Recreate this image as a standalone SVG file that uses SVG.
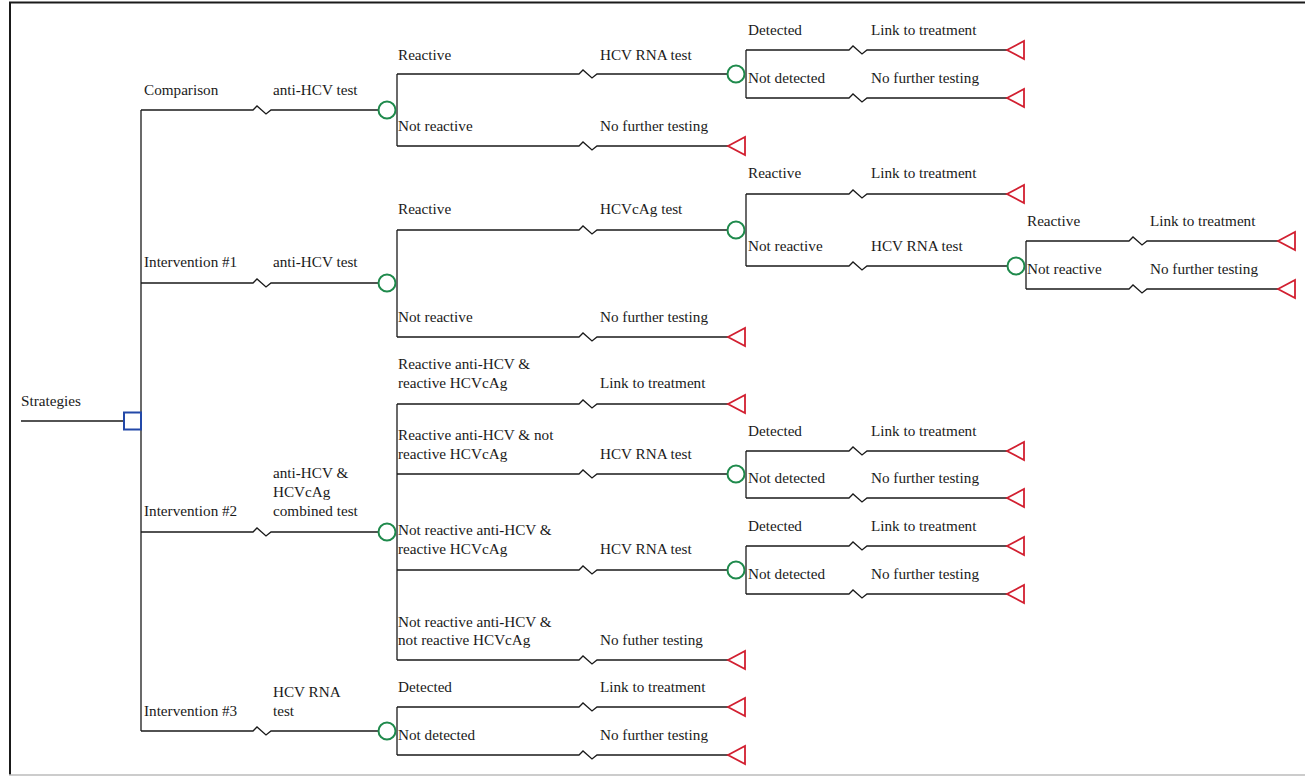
<svg xmlns="http://www.w3.org/2000/svg" width="1305" height="776" viewBox="0 0 1305 776">
  <style>
    .ln { fill: none; stroke: #1a1a1a; stroke-width: 1.3; }
    .chance { fill: #fff; stroke: #1f8a4c; stroke-width: 2; }
    .decision { fill: #fff; stroke: #2348a8; stroke-width: 2; }
    .term { fill: #fff; stroke: #d21f30; stroke-width: 1.8; stroke-linejoin: miter; }
    .lbl text { font-family: 'Liberation Serif', 'Times New Roman', Times, serif; font-size: 15.2px; fill: #1a1a1a; }
  </style>
  <defs>
    <!-- left-pointing terminal triangle, apex at origin -->
    <polygon id="tri" points="0,0 17,-9 17,9"/>
  </defs>

  <rect width="1305" height="776" fill="#fff"/>
  <!-- frame -->
  <g id="frame">
    <line x1="9" y1="2.5" x2="1305" y2="2.5" stroke="#1a1a1a" stroke-width="2.2"/>
    <line x1="10" y1="2" x2="10" y2="775" stroke="#1a1a1a" stroke-width="2"/>
    <line x1="9" y1="775" x2="1305" y2="775" stroke="#bbb" stroke-width="1.5"/>
  </g>

  <g id="connectors" class="ln">
    <!-- root -->
    <path d="M21,421 H124"/>
    <path d="M141,110 V731"/>
    <!-- strategies: break at x=262 -->
    <path d="M141,110 H253 l4,-4 l9,8 l5,-4 H378.5"/>
    <path d="M141,283 H253 l4,-4 l9,8 l5,-4 H378.5"/>
    <path d="M141,532 H253 l4,-4 l9,8 l5,-4 H378.5"/>
    <path d="M141,731 H253 l4,-4 l9,8 l5,-4 H378.5"/>

    <!-- comparison -->
    <path d="M397,74 V146"/>
    <path d="M397,74 H579 l4,-4 l9,8 l5,-4 H727.5"/>
    <path d="M397,146 H579 l4,-4 l9,8 l5,-4 H728"/>
    <path d="M746,50 V98"/>
    <path d="M746,50 H849 l4,-4 l9,8 l5,-4 H1007"/>
    <path d="M746,98 H849 l4,-4 l9,8 l5,-4 H1007"/>

    <!-- intervention 1 -->
    <path d="M397,230 V337"/>
    <path d="M397,230 H579 l4,-4 l9,8 l5,-4 H727.5"/>
    <path d="M397,337 H579 l4,-4 l9,8 l5,-4 H728"/>
    <path d="M746,194 V266"/>
    <path d="M746,194 H849 l4,-4 l9,8 l5,-4 H1007"/>
    <path d="M746,266 H849 l4,-4 l9,8 l5,-4 H1007.5"/>
    <path d="M1026,241 V289"/>
    <path d="M1026,241 H1129 l4,-4 l9,8 l5,-4 H1278"/>
    <path d="M1026,289 H1129 l4,-4 l9,8 l5,-4 H1278"/>

    <!-- intervention 2 -->
    <path d="M397,404 V660"/>
    <path d="M397,404 H579 l4,-4 l9,8 l5,-4 H728"/>
    <path d="M397,474 H579 l4,-4 l9,8 l5,-4 H727.5"/>
    <path d="M397,570 H579 l4,-4 l9,8 l5,-4 H727.5"/>
    <path d="M397,660 H579 l4,-4 l9,8 l5,-4 H728"/>
    <path d="M746,451 V498"/>
    <path d="M746,451 H849 l4,-4 l9,8 l5,-4 H1007"/>
    <path d="M746,498 H849 l4,-4 l9,8 l5,-4 H1007"/>
    <path d="M746,546 V594"/>
    <path d="M746,546 H849 l4,-4 l9,8 l5,-4 H1007"/>
    <path d="M746,594 H849 l4,-4 l9,8 l5,-4 H1007"/>

    <!-- intervention 3 -->
    <path d="M397,707 V755"/>
    <path d="M397,707 H579 l4,-4 l9,8 l5,-4 H728"/>
    <path d="M397,755 H579 l4,-4 l9,8 l5,-4 H728"/>
  </g>

  <g class="lbl" font-family="'Liberation Serif', 'Times New Roman', serif" font-size="15.2">
  <!-- decision node -->
  <g id="strategies">
    <text x="21" y="406">Strategies</text>
    <rect class="decision" x="124" y="412.5" width="17" height="17"/>
  </g>

  <!-- strategy labels -->
  <g id="comparison">
    <text x="144" y="95">Comparison</text>
    <text x="273" y="95">anti-HCV test</text>
    <circle class="chance" cx="387" cy="110" r="8.5"/>
  </g>
  <g id="intervention1">
    <text x="144" y="267">Intervention #1</text>
    <text x="273" y="267">anti-HCV test</text>
    <circle class="chance" cx="387" cy="283" r="8.5"/>
  </g>
  <g id="intervention2">
    <text x="144" y="516">Intervention #2</text>
    <text x="273" y="478">anti-HCV &amp;</text>
    <text x="273" y="497">HCVcAg</text>
    <text x="273" y="516">combined test</text>
    <circle class="chance" cx="387" cy="532" r="8.5"/>
  </g>
  <g id="intervention3">
    <text x="144" y="716">Intervention #3</text>
    <text x="273" y="697">HCV RNA</text>
    <text x="273" y="716">test</text>
    <circle class="chance" cx="387" cy="731" r="8.5"/>
  </g>

  <!-- comparison subtree -->
  <g id="cmp-reactive">
    <text x="398" y="60">Reactive</text>
    <text x="600" y="60">HCV RNA test</text>
    <circle class="chance" cx="736" cy="74" r="8.5"/>
  </g>
  <g id="cmp-rna-detected">
    <text x="748" y="35">Detected</text>
    <text x="871" y="35">Link to treatment</text>
    <use href="#tri" class="term" x="1007" y="50"/>
  </g>
  <g id="cmp-rna-notdetected">
    <text x="748" y="83">Not detected</text>
    <text x="871" y="83">No further testing</text>
    <use href="#tri" class="term" x="1007" y="98"/>
  </g>
  <g id="cmp-notreactive">
    <text x="398" y="131">Not reactive</text>
    <text x="600" y="131">No further testing</text>
    <use href="#tri" class="term" x="728" y="146"/>
  </g>

  <!-- intervention 1 subtree -->
  <g id="i1-reactive">
    <text x="398" y="214">Reactive</text>
    <text x="600" y="214">HCVcAg test</text>
    <circle class="chance" cx="736" cy="230" r="8.5"/>
  </g>
  <g id="i1-cag-reactive">
    <text x="748" y="178">Reactive</text>
    <text x="871" y="178">Link to treatment</text>
    <use href="#tri" class="term" x="1007" y="194"/>
  </g>
  <g id="i1-cag-notreactive">
    <text x="748" y="251">Not reactive</text>
    <text x="871" y="251">HCV RNA test</text>
    <circle class="chance" cx="1016" cy="266" r="8.5"/>
  </g>
  <g id="i1-rna-reactive">
    <text x="1027" y="226">Reactive</text>
    <text x="1150" y="226">Link to treatment</text>
    <use href="#tri" class="term" x="1278" y="241"/>
  </g>
  <g id="i1-rna-notreactive">
    <text x="1027" y="274">Not reactive</text>
    <text x="1150" y="274">No further testing</text>
    <use href="#tri" class="term" x="1278" y="289"/>
  </g>
  <g id="i1-notreactive">
    <text x="398" y="322">Not reactive</text>
    <text x="600" y="322">No further testing</text>
    <use href="#tri" class="term" x="728" y="337"/>
  </g>

  <!-- intervention 2 subtree -->
  <g id="i2-rr">
    <text x="398" y="369">Reactive anti-HCV &amp;</text>
    <text x="398" y="388">reactive HCVcAg</text>
    <text x="600" y="388">Link to treatment</text>
    <use href="#tri" class="term" x="728" y="404"/>
  </g>
  <g id="i2-rn">
    <text x="398" y="440">Reactive anti-HCV &amp; not</text>
    <text x="398" y="459">reactive HCVcAg</text>
    <text x="600" y="459">HCV RNA test</text>
    <circle class="chance" cx="736" cy="474" r="8.5"/>
  </g>
  <g id="i2-rn-detected">
    <text x="748" y="436">Detected</text>
    <text x="871" y="436">Link to treatment</text>
    <use href="#tri" class="term" x="1007" y="451"/>
  </g>
  <g id="i2-rn-notdetected">
    <text x="748" y="483">Not detected</text>
    <text x="871" y="483">No further testing</text>
    <use href="#tri" class="term" x="1007" y="498"/>
  </g>
  <g id="i2-nr">
    <text x="398" y="535">Not reactive anti-HCV &amp;</text>
    <text x="398" y="554">reactive HCVcAg</text>
    <text x="600" y="554">HCV RNA test</text>
    <circle class="chance" cx="736" cy="570" r="8.5"/>
  </g>
  <g id="i2-nr-detected">
    <text x="748" y="531">Detected</text>
    <text x="871" y="531">Link to treatment</text>
    <use href="#tri" class="term" x="1007" y="546"/>
  </g>
  <g id="i2-nr-notdetected">
    <text x="748" y="579">Not detected</text>
    <text x="871" y="579">No further testing</text>
    <use href="#tri" class="term" x="1007" y="594"/>
  </g>
  <g id="i2-nn">
    <text x="398" y="627">Not reactive anti-HCV &amp;</text>
    <text x="398" y="645">not reactive HCVcAg</text>
    <text x="600" y="645">No futher testing</text>
    <use href="#tri" class="term" x="728" y="660"/>
  </g>

  <!-- intervention 3 subtree -->
  <g id="i3-detected">
    <text x="398" y="692">Detected</text>
    <text x="600" y="692">Link to treatment</text>
    <use href="#tri" class="term" x="728" y="707"/>
  </g>
  <g id="i3-notdetected">
    <text x="398" y="740">Not detected</text>
    <text x="600" y="740">No further testing</text>
    <use href="#tri" class="term" x="728" y="755"/>
  </g>
  </g>
</svg>
